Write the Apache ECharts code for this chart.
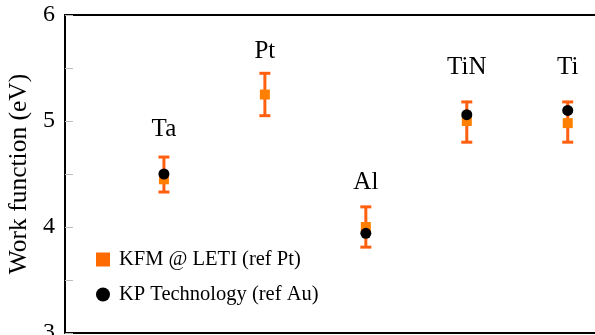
<!DOCTYPE html>
<html><head><meta charset="utf-8">
<script src="https://cdn.jsdelivr.net/npm/echarts@6/dist/echarts.min.js"></script>
<style>html,body{margin:0;padding:0;background:#fff}#c{width:595px;height:335px}</style>
</head><body><div id="c"></div>
<script>
const categories = ['Ta', 'Pt', 'Al', 'TiN', 'Ti'];
const kfmValues = [4.45, 5.25, 4.0, 5.0, 4.98];
const kfmLow = [4.33, 5.05, 3.81, 4.80, 4.80];
const kfmHigh = [4.66, 5.45, 4.19, 5.18, 5.18];
const kpValues = [4.5, null, 3.94, 5.06, 5.1];
const labelY = [4.92, 5.66, 4.42, 5.51, 5.51];
const seriesNames = ['KFM @ LETI (ref Pt)', 'KP Technology (ref Au)'];
const yAxisName = 'Work function (eV)';

const FONT = '"Liberation Serif", "DejaVu Serif", serif';
const ORANGE_BAR = '#FF6010';
const ORANGE_MARK = '#FF8000';

const chart = echarts.init(document.getElementById('c'), null, {renderer: 'canvas'});

const xBase = {
  type: 'value', min: 0.02, max: 5.27,
  axisLine: {show: true, onZero: false, lineStyle: {color: '#000', width: 2}},
  axisTick: {show: false}, axisLabel: {show: false}, splitLine: {show: false}
};

chart.setOption({
  animation: false,
  backgroundColor: '#fff',
  grid: {left: 65, right: 0, top: 15, bottom: 2, containLabel: false, outerBoundsMode: 'none'},
  xAxis: [
    Object.assign({position: 'bottom'}, xBase),
    Object.assign({position: 'top'}, xBase)
  ],
  yAxis: {
    type: 'value', min: 3, max: 6, interval: 1,
    name: yAxisName, nameLocation: 'middle', nameGap: 33, nameRotate: 90,
    nameTextStyle: {fontFamily: FONT, fontSize: 25.5, color: '#000'},
    axisLine: {show: true, onZero: false, lineStyle: {color: '#000', width: 2}},
    axisTick: {show: true, inside: true, length: 8, lineStyle: {color: '#bbb', width: 1}},
    minorTick: {show: true, splitNumber: 2, length: 8, lineStyle: {color: '#bbb', width: 1}},
    axisLabel: {fontFamily: FONT, fontSize: 24, color: '#000', margin: 10},
    splitLine: {show: false}, minorSplitLine: {show: false}
  },
  legend: {
    orient: 'vertical', left: 96, top: 249, padding: 0,
    itemWidth: 14, itemHeight: 14, itemGap: 14,
    textStyle: {fontFamily: FONT, fontSize: 20.5, color: '#000', padding: [0, 0, 0, 4]},
    data: [
      {name: seriesNames[0], icon: 'rect', itemStyle: {color: '#FF6A00'}},
      {name: seriesNames[1], icon: 'circle'}
    ]
  },
  series: [
    {
      type: 'custom', z: 1,
      data: categories.map((c, i) => [i + 1, kfmLow[i], kfmHigh[i]]),
      renderItem: function (params, api) {
        const x = api.value(0);
        const lo = api.coord([x, api.value(1)]);
        const hi = api.coord([x, api.value(2)]);
        const hw = 5.5;
        const st = {stroke: ORANGE_BAR, lineWidth: 3};
        return {type: 'group', children: [
          {type: 'line', shape: {x1: lo[0], y1: lo[1], x2: hi[0], y2: hi[1]}, style: st},
          {type: 'line', shape: {x1: lo[0] - hw, y1: lo[1], x2: lo[0] + hw, y2: lo[1]}, style: st},
          {type: 'line', shape: {x1: hi[0] - hw, y1: hi[1], x2: hi[0] + hw, y2: hi[1]}, style: st}
        ]};
      }
    },
    {
      name: seriesNames[0], type: 'scatter', z: 2,
      symbol: 'rect', symbolSize: 10,
      itemStyle: {color: ORANGE_MARK, opacity: 1},
      data: categories.map((c, i) => [i + 1, kfmValues[i]])
    },
    {
      name: seriesNames[1], type: 'scatter', z: 3,
      symbol: 'circle', symbolSize: 11,
      itemStyle: {color: '#000', opacity: 1},
      data: categories.map((c, i) => kpValues[i] == null ? null : [i + 1, kpValues[i]]).filter(d => d)
    },
    {
      type: 'custom', z: 4,
      data: categories.map((c, i) => [i + 1, labelY[i], c]),
      renderItem: function (params, api) {
        const p = api.coord([api.value(0), api.value(1)]);
        return {type: 'text', x: p[0], y: p[1], style: {
          text: categories[params.dataIndex], fill: '#000',
          font: '25px ' + FONT, align: 'center', verticalAlign: 'middle'
        }};
      }
    }
  ]
});
</script></body></html>
